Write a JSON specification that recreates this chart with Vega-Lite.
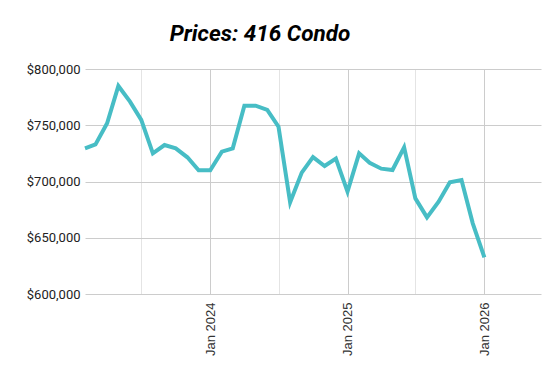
{
  "$schema": "https://vega.github.io/schema/vega-lite/v6.json",
  "autosize": {"type": "none"},
  "width": 456,
  "height": 225,
  "padding": {"left": 85, "top": 69, "right": 19, "bottom": 85},
  "background": "white",
  "title": {
    "text": "Prices: 416 Condo",
    "font": "Roboto",
    "fontSize": 22.5,
    "fontWeight": "bold",
    "fontStyle": "italic",
    "color": "#000000",
    "anchor": "middle",
    "dx": -53,
    "baseline": "alphabetic",
    "offset": 0
  },
  "data": {
    "values": [
      {"date": "2023-02-01", "price": 729500},
      {"date": "2023-03-01", "price": 733000},
      {"date": "2023-04-01", "price": 751700},
      {"date": "2023-05-01", "price": 784900},
      {"date": "2023-06-01", "price": 771000},
      {"date": "2023-07-01", "price": 754700},
      {"date": "2023-08-01", "price": 725000},
      {"date": "2023-09-01", "price": 732400},
      {"date": "2023-10-01", "price": 729500},
      {"date": "2023-11-01", "price": 721500},
      {"date": "2023-12-01", "price": 710000},
      {"date": "2024-01-01", "price": 710000},
      {"date": "2024-02-01", "price": 726500},
      {"date": "2024-03-01", "price": 729500},
      {"date": "2024-04-01", "price": 767400},
      {"date": "2024-05-01", "price": 767400},
      {"date": "2024-06-01", "price": 763600},
      {"date": "2024-07-01", "price": 748700},
      {"date": "2024-08-01", "price": 681500},
      {"date": "2024-09-01", "price": 707900},
      {"date": "2024-10-01", "price": 721700},
      {"date": "2024-11-01", "price": 713800},
      {"date": "2024-12-01", "price": 720300},
      {"date": "2025-01-01", "price": 691000},
      {"date": "2025-02-01", "price": 725000},
      {"date": "2025-03-01", "price": 716700},
      {"date": "2025-04-01", "price": 711400},
      {"date": "2025-05-01", "price": 710200},
      {"date": "2025-06-01", "price": 730400},
      {"date": "2025-07-01", "price": 685000},
      {"date": "2025-08-01", "price": 668100},
      {"date": "2025-09-01", "price": 682000},
      {"date": "2025-10-01", "price": 699300},
      {"date": "2025-11-01", "price": 701300},
      {"date": "2025-12-01", "price": 662800},
      {"date": "2026-01-01", "price": 632600}
    ]
  },
  "mark": {"type": "line", "color": "#47bdc5", "strokeWidth": 4, "strokeJoin": "miter"},
  "encoding": {
    "x": {
      "field": "date",
      "type": "temporal",
      "scale": {"domain": ["2023-02-01", "2026-06-01"]},
      "axis": {
        "title": null,
        "values": ["2023-07-01", "2024-01-01", "2024-07-01", "2025-01-01", "2025-07-01", "2026-01-01"],
        "labelExpr": "month(datum.value) == 0 ? timeFormat(datum.value, '%b %Y') : ''",
        "labelAngle": -90,
        "labelAlign": "right",
        "labelBaseline": "middle",
        "labelFont": "Liberation Sans",
        "labelFontSize": 13,
        "labelColor": "#333333",
        "labelPadding": 8,
        "ticks": false,
        "domain": false,
        "grid": true,
        "gridColor": {"condition": {"test": "month(datum.value) == 0", "value": "#cccccc"}, "value": "#e4e4e4"},
        "gridWidth": 1
      }
    },
    "y": {
      "field": "price",
      "type": "quantitative",
      "scale": {"domain": [600000, 800000], "nice": false, "zero": false},
      "axis": {
        "title": null,
        "values": [600000, 650000, 700000, 750000, 800000],
        "format": "$,.0f",
        "labelFont": "Roboto",
        "labelFontSize": 13,
        "labelColor": "#222222",
        "labelPadding": 5,
        "ticks": false,
        "domain": false,
        "grid": true,
        "gridColor": "#cccccc",
        "gridWidth": 1
      }
    }
  },
  "config": {"view": {"stroke": null}}
}
